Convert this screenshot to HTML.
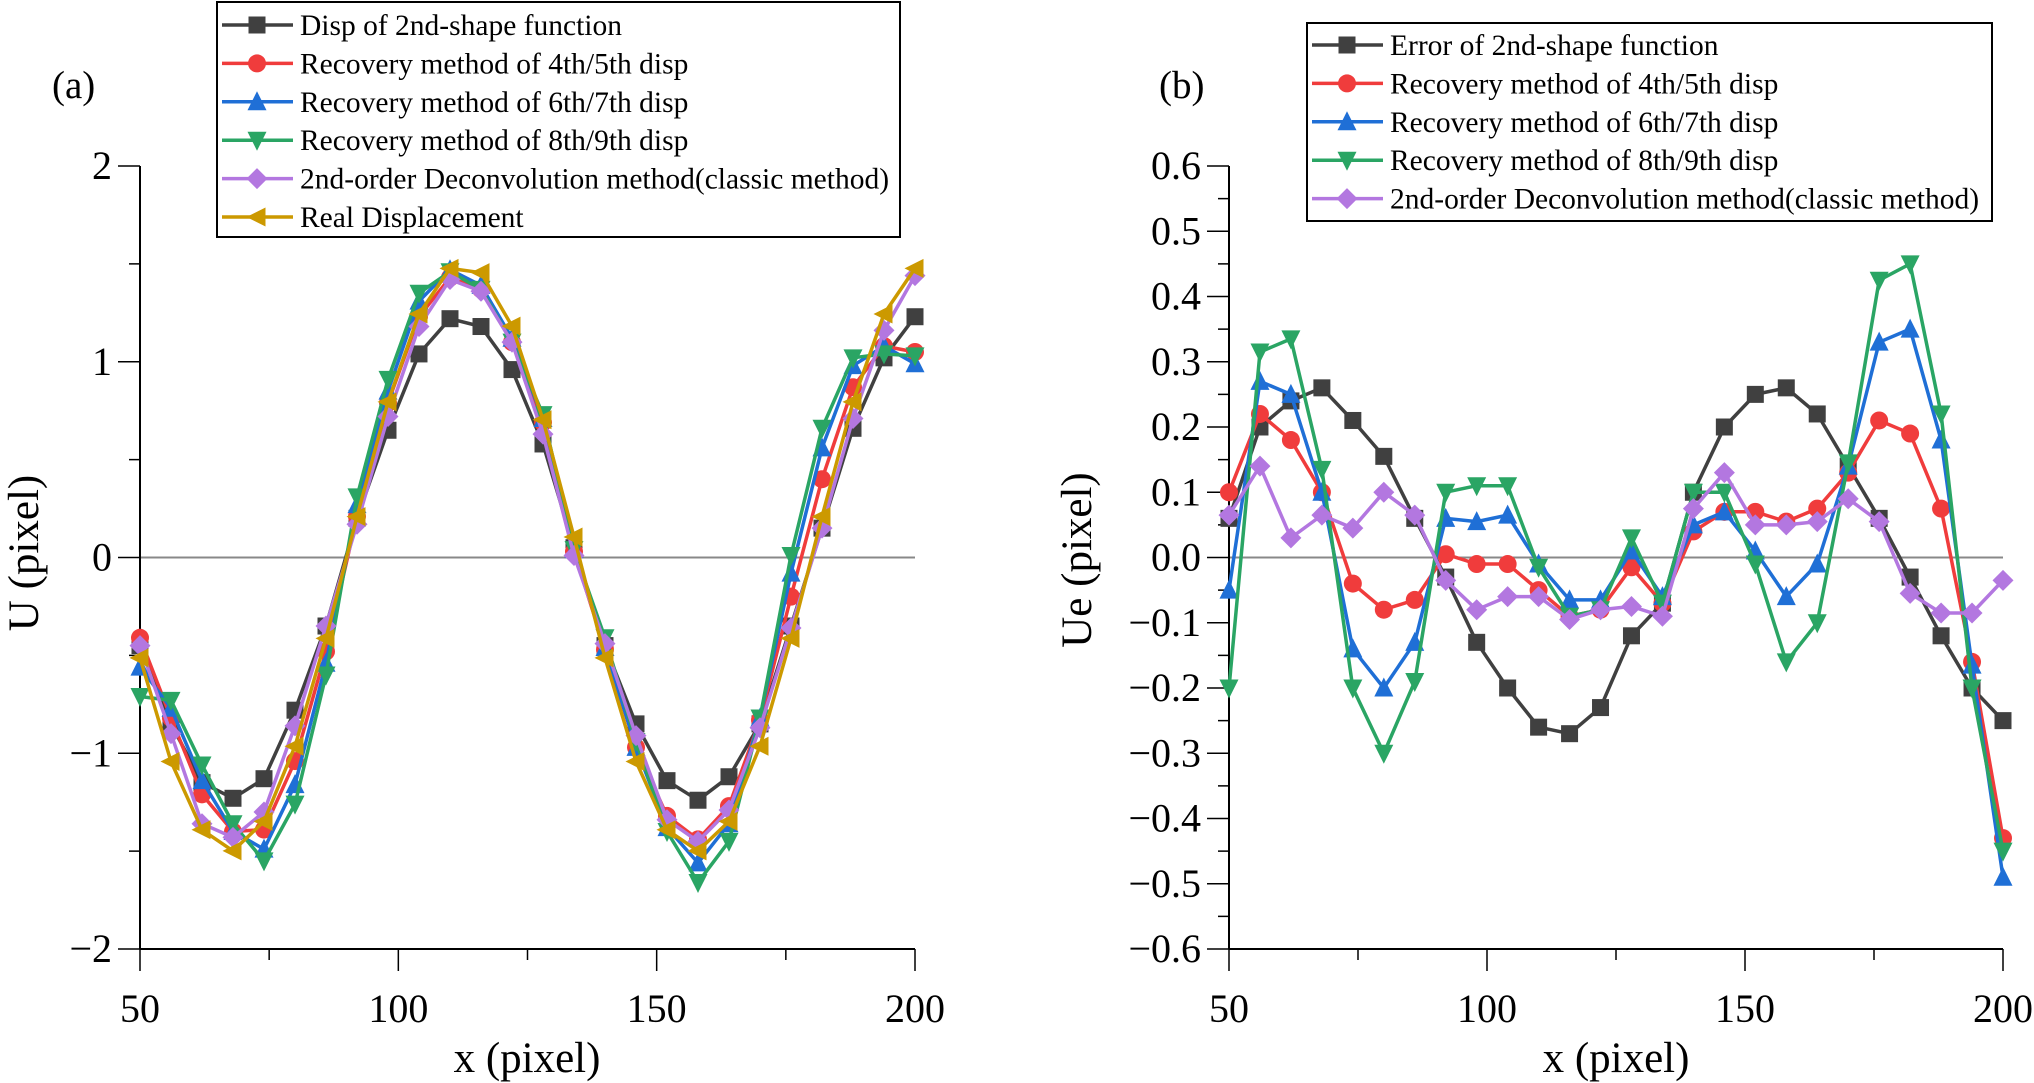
<!DOCTYPE html>
<html><head><meta charset="utf-8"><style>
html,body{margin:0;padding:0;background:#fff;}
svg{display:block;font-family:"Liberation Serif",serif;}
</style></head><body>
<svg id="chart" width="2034" height="1083" viewBox="0 0 2034 1083"></svg>
<script>
const xs=[50,56,62,68,74,80,86,92,98,104,110,116,122,128,134,140,146,152,158,164,170,176,182,188,194,200];
// Panel (a) displacement
const aGray=[-0.45,-0.85,-1.15,-1.23,-1.13,-0.78,-0.35,0.2,0.65,1.04,1.22,1.18,0.96,0.58,0.05,-0.45,-0.85,-1.14,-1.24,-1.12,-0.85,-0.35,0.15,0.66,1.02,1.23];
const aRed=[-0.41,-0.82,-1.21,-1.40,-1.39,-1.04,-0.48,0.21,0.79,1.23,1.43,1.37,1.10,0.69,0.03,-0.47,-0.97,-1.32,-1.44,-1.27,-0.83,-0.20,0.40,0.87,1.08,1.05];
const aBlue=[-0.56,-0.77,-1.14,-1.40,-1.49,-1.16,-0.54,0.27,0.85,1.31,1.47,1.39,1.12,0.71,0.04,-0.46,-0.97,-1.38,-1.56,-1.36,-0.82,-0.08,0.56,0.98,1.08,0.99];
const aGreen=[-0.71,-0.73,-1.06,-1.36,-1.55,-1.26,-0.60,0.31,0.91,1.35,1.46,1.37,1.10,0.73,0.04,-0.41,-0.94,-1.40,-1.66,-1.45,-0.82,0.01,0.66,1.02,1.04,1.03];
const aPurple=[-0.45,-0.90,-1.36,-1.43,-1.30,-0.86,-0.35,0.17,0.72,1.18,1.42,1.36,1.10,0.63,0.01,-0.44,-0.91,-1.34,-1.45,-1.29,-0.87,-0.36,0.15,0.71,1.16,1.44];
const aReal=[-0.513,-1.042,-1.391,-1.499,-1.348,-0.964,-0.413,0.209,0.795,1.244,1.477,1.455,1.182,0.704,0.105,-0.513,-1.042,-1.391,-1.499,-1.348,-0.964,-0.413,0.209,0.795,1.244,1.477];
// Panel (b) errors
const bGray=[0.06,0.2,0.24,0.26,0.21,0.155,0.06,-0.03,-0.13,-0.2,-0.26,-0.27,-0.23,-0.12,-0.07,0.1,0.2,0.25,0.26,0.22,0.14,0.06,-0.03,-0.12,-0.2,-0.25];
const bRed=[0.1,0.22,0.18,0.1,-0.04,-0.08,-0.065,0.005,-0.01,-0.01,-0.05,-0.09,-0.08,-0.015,-0.07,0.04,0.07,0.07,0.055,0.075,0.13,0.21,0.19,0.075,-0.16,-0.43];
const bBlue=[-0.05,0.27,0.25,0.1,-0.14,-0.2,-0.13,0.06,0.055,0.065,-0.01,-0.065,-0.065,0.01,-0.06,0.05,0.07,0.01,-0.06,-0.01,0.14,0.33,0.35,0.18,-0.165,-0.49];
const bGreen=[-0.2,0.315,0.335,0.135,-0.2,-0.3,-0.19,0.1,0.11,0.11,-0.015,-0.09,-0.08,0.03,-0.07,0.1,0.1,-0.01,-0.16,-0.1,0.145,0.425,0.45,0.22,-0.2,-0.45];
const bPurple=[0.065,0.14,0.03,0.065,0.045,0.1,0.065,-0.035,-0.08,-0.06,-0.06,-0.095,-0.08,-0.075,-0.09,0.075,0.13,0.05,0.05,0.055,0.09,0.055,-0.055,-0.085,-0.085,-0.035];
const xTicks=[50,100,150,200];
const aYTicks=[-2,-1,0,1,2];
const bYTicks=[-0.6,-0.5,-0.4,-0.3,-0.2,-0.1,0,0.1,0.2,0.3,0.4,0.5,0.6];
const aLegend=["Disp of 2nd-shape function","Recovery method of 4th/5th disp","Recovery method of 6th/7th disp","Recovery method of 8th/9th disp","2nd-order Deconvolution method(classic method)","Real Displacement"];
const bLegend=["Error of 2nd-shape function","Recovery method of 4th/5th disp","Recovery method of 6th/7th disp","Recovery method of 8th/9th disp","2nd-order Deconvolution method(classic method)"];

const NS="http://www.w3.org/2000/svg";
const svg=document.getElementById('chart');
function el(tag,attrs,parent){const e=document.createElementNS(NS,tag);for(const k in attrs)e.setAttribute(k,attrs[k]);(parent||svg).appendChild(e);return e;}
const COL={gray:'#404040',red:'#f03c3c',blue:'#1f6fd6',green:'#2aa564',purple:'#b377e0',gold:'#cc9900'};
const SHAPES=['square','circle','up','down','diamond','left'];

function marker(g,shape,x,y,c){
  const s=8.5;let e;
  if(shape==='square')e=el('rect',{x:x-s,y:y-s,width:2*s,height:2*s,fill:c},g);
  else if(shape==='circle')e=el('circle',{cx:x,cy:y,r:s+0.5,fill:c},g);
  else{let p;
    if(shape==='up')p=[[x,y-s-2],[x+s+1,y+s],[x-s-1,y+s]];
    else if(shape==='down')p=[[x,y+s+2],[x+s+1,y-s],[x-s-1,y-s]];
    else if(shape==='diamond')p=[[x,y-s-2],[x+s+2,y],[x,y+s+2],[x-s-2,y]];
    else p=[[x-s-2,y],[x+s,y-s-1],[x+s,y+s+1]];
    e=el('polygon',{points:p.map(q=>q.join(',')).join(' '),fill:c},g);}
  return e;
}

function panel(opt){
  const {x0,x1,y0,y1,ymin,ymax,series,colors,id}=opt;
  const X=v=>x0+(v-50)/150*(x1-x0);
  const Y=v=>y1-(v-ymin)/(ymax-ymin)*(y1-y0);
  const g=el('g',{});
  
  
  const z=el('line',{x1:x0,x2:x1,y1:Y(0),y2:Y(0),stroke:'#888',"stroke-width":2},g);
  
  const ya=el('line',{x1:x0,x2:x0,y1:y0,y2:y1,stroke:'#000',"stroke-width":2},g);
  
  const xa=el('line',{x1:x0,x2:x1,y1:y1,y2:y1,stroke:'#000',"stroke-width":2},g);
  
  for(let v=50;v<=200;v+=25){const maj=(v%50===0);el('line',{x1:X(v),x2:X(v),y1:y1,y2:y1+(maj?22:11),stroke:'#000',"stroke-width":1.5},g);}
  xTicks.forEach(v=>{const t=el('text',{x:X(v),y:1022,"font-size":40,"text-anchor":"middle"},g);t.textContent=v;
    });
  opt.minor.forEach(v=>el('line',{x1:x0-11,x2:x0,y1:Y(v),y2:Y(v),stroke:'#000',"stroke-width":1.5},g));
  opt.yTicks.forEach(v=>{el('line',{x1:x0-22,x2:x0,y1:Y(v),y2:Y(v),stroke:'#000',"stroke-width":1.5},g);
    const t=el('text',{x:x0-28,y:Y(v)+13,"font-size":40,"text-anchor":"end"},g);
    t.textContent=opt.fmt(v);
    });
  series.forEach((s,i)=>{
    const sg=el('g',{},g);
    
    
    const pts=xs.map((x,j)=>X(x).toFixed(1)+','+Y(s[j]).toFixed(1)).join(' ');
    el('polyline',{points:pts,fill:'none',stroke:colors[i],"stroke-width":3.5,"stroke-linejoin":"round"},sg);
    xs.forEach((x,j)=>{const m=marker(sg,SHAPES[i],X(x),Y(s[j]),colors[i]);
      });
  });
  const L=opt.legend;
  const lg=el('g',{},g);
  
  
  el('rect',{x:L.x,y:L.y,width:L.w,height:L.h,fill:'#fff',stroke:'#000',"stroke-width":2},lg);
  L.labels.forEach((lab,i)=>{
    const yy=L.y+L.first+i*38.4;
    const eg=el('g',{},lg);
    
    
    el('line',{x1:L.x+5,x2:L.x+76,y1:yy,y2:yy,stroke:colors[i],"stroke-width":3.5},eg);
    marker(eg,SHAPES[i],L.x+40,yy,colors[i]);
    const t=el('text',{x:L.x+83,y:yy+10,"font-size":29.5},eg);t.textContent=lab;
  });
}

panel({id:'a',x0:140,x1:915,y0:166,y1:949,ymin:-2,ymax:2,yTicks:aYTicks,minor:[-1.5,-0.5,0.5,1.5],
  fmt:v=>v<0?'\u2212'+(-v):String(v),
  series:[aGray,aRed,aBlue,aGreen,aPurple,aReal],
  colors:[COL.gray,COL.red,COL.blue,COL.green,COL.purple,COL.gold],
  legend:{x:217,y:2,w:683,h:235,first:23,labels:aLegend}});
panel({id:'b',x0:1229,x1:2003,y0:166,y1:949,ymin:-0.6,ymax:0.6,yTicks:bYTicks,
  minor:[-0.55,-0.45,-0.35,-0.25,-0.15,-0.05,0.05,0.15,0.25,0.35,0.45,0.55],
  fmt:v=>(v<0?'\u2212':'')+Math.abs(v).toFixed(1),
  series:[bGray,bRed,bBlue,bGreen,bPurple],
  colors:[COL.gray,COL.red,COL.blue,COL.green,COL.purple],
  legend:{x:1307,y:23,w:685,h:198,first:22,labels:bLegend}});

function txt(s,attrs,name){const t=el('text',attrs);t.textContent=s;return t;}
txt('(a)',{x:52,y:98,"font-size":39},'panel-a-label');
txt('(b)',{x:1159,y:98,"font-size":39},'panel-b-label');
txt('x (pixel)',{x:527,y:1072,"font-size":43,"text-anchor":"middle"},'x-axis-title-a');
txt('x (pixel)',{x:1616,y:1072,"font-size":43,"text-anchor":"middle"},'x-axis-title-b');
txt('U (pixel)',{x:0,y:0,"font-size":43,"text-anchor":"middle",transform:"translate(38,553) rotate(-90)"},'y-axis-title-a');
txt('Ue (pixel)',{x:0,y:0,"font-size":43,"text-anchor":"middle",transform:"translate(1091,560) rotate(-90)"},'y-axis-title-b');
</script>
</body></html>
